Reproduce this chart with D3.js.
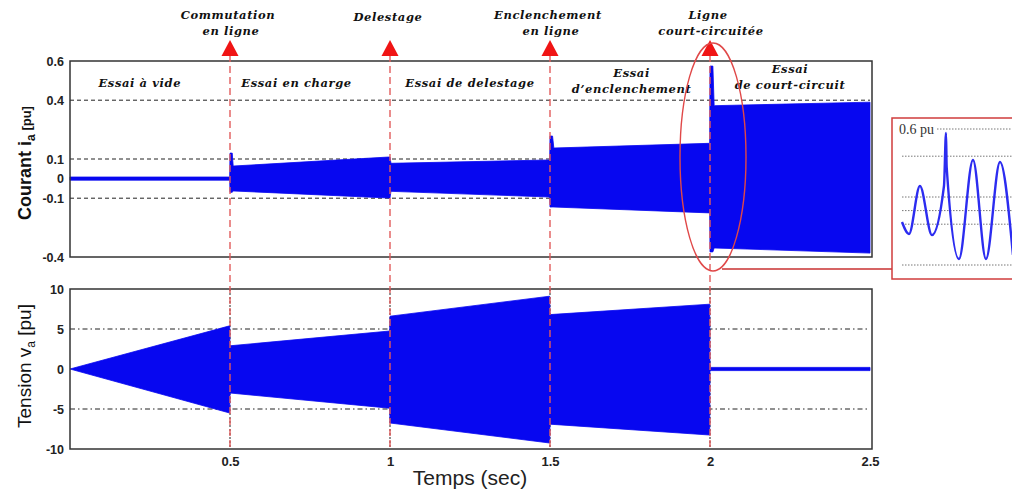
<!DOCTYPE html>
<html lang="fr">
<head>
<meta charset="UTF-8">
<title>Courant et tension</title>
<script src="https://d3js.org/d3.v7.min.js"></script>
<style>
  body { margin: 0; background: #fff; }
  .tick text { font-family: "Liberation Sans", Arial, sans-serif; font-weight: bold; font-size: 12.5px; fill: #222; }
  .lbl { font-family: "DejaVu Serif", serif; font-weight: bold; font-style: italic; font-size: 11.5px; letter-spacing: 0.6px; fill: #111; }
</style>
</head>
<body>
<div id="chart"></div>
<script>
// courant ia (pu) : enveloppe haute / basse
var tI  = [0, 0.499, 0.5, 0.507, 0.51, 0.995, 1.0, 1.003, 1.499, 1.5, 1.508, 1.512, 1.999, 2.0, 2.009, 2.013, 2.5];
var hiI = [0.008, 0.008, 0.13, 0.13, 0.064, 0.11, 0.11, 0.078, 0.095, 0.217, 0.217, 0.156, 0.18, 0.574, 0.574, 0.372, 0.39];
var loI = [-0.008, -0.008, -0.07, -0.07, -0.063, -0.099, -0.099, -0.065, -0.094, -0.145, -0.145, -0.145, -0.175, -0.374, -0.374, -0.354, -0.38];

// tension va (pu)
var tV  = [0, 0.499, 0.5, 0.999, 1.0, 1.499, 1.5, 1.999, 2.0, 2.5];
var hiV = [0, 5.4, 2.9, 4.75, 6.6, 9.1, 6.8, 8.1, 0.2, 0.2];
var loV = [0, -5.5, -3.0, -4.9, -6.75, -9.25, -6.9, -8.25, -0.2, -0.2];

// zoom sur le court-circuit
var tZoom = [1.9674, 1.9726, 1.9807, 1.9896, 1.9985, 2.0, 2.0005, 2.0096, 2.02, 2.0296, 2.04, 2.0496];
var vZoom = [-0.084, -0.172, 0.181, -0.18, 0.181, 0.571, 0.32, -0.356, 0.372, -0.356, 0.357, -0.326];

var ticksI = [0.6, 0.4, 0.1, 0, -0.1, -0.4];
var gridI = [0.4, 0.1, -0.1];
var ticksV = [10, 5, 0, -5, -10];
var gridV = [5, -5];
var ticksX = [0.5, 1, 1.5, 2, 2.5];

var events = [0.5, 1, 1.5, 2];
var eventLabels = [["Commutation", "en ligne"], ["Delestage"], ["Enclenchement", "en ligne"], ["Ligne", "court-circuitée"]];
var sectionT = [0.218, 0.708, 1.25, 1.755, 2.25];
var sectionLabels = [["Essai à vide"], ["Essai en charge"], ["Essai de delestage"], ["Essai", "d’enclenchement"], ["Essai", "de court-circuit"]];

var W = 1012, H = 489;
var svg = d3.select("#chart").append("svg").attr("width", W).attr("height", H)
    .style("background", "#fff");

var x = d3.scaleLinear().domain([0, 2.5]).range([70, 870]);
var yI = d3.scaleLinear().domain([-0.4, 0.6]).range([257, 61]);
var yV = d3.scaleLinear().domain([-10, 10]).range([449, 289]);
var fmt = function(d) { return String(d); };

var blue = "#0707f0";

// grilles
svg.selectAll(".gI").data(gridI).enter().append("line")
    .attr("x1", x(0)).attr("x2", x(2.5)).attr("y1", yI).attr("y2", yI)
    .attr("stroke", "#222").attr("stroke-width", 1).attr("stroke-dasharray", "4,3");
svg.selectAll(".gV").data(gridV).enter().append("line")
    .attr("x1", x(0)).attr("x2", x(2.5)).attr("y1", yV).attr("y2", yV)
    .attr("stroke", "#222").attr("stroke-width", 1).attr("stroke-dasharray", "5,3,1.5,3");
svg.selectAll(".gX").data(events).enter().append("line")
    .attr("x1", x).attr("x2", x).attr("y1", yV(10)).attr("y2", yV(-10))
    .attr("stroke", "#222").attr("stroke-width", 1).attr("stroke-dasharray", "2,2");

// signaux
var areaI = d3.area().x(function(d, i) { return x(tI[i]); })
    .y0(function(d, i) { return yI(loI[i]); }).y1(function(d) { return yI(d); });
svg.append("path").attr("d", areaI(hiI)).attr("fill", blue).attr("stroke", blue).attr("stroke-width", 0.8);

var areaV = d3.area().x(function(d, i) { return x(tV[i]); })
    .y0(function(d, i) { return yV(loV[i]); }).y1(function(d) { return yV(d); });
svg.append("path").attr("d", areaV(hiV)).attr("fill", blue).attr("stroke", blue).attr("stroke-width", 0.8);

// cadres
[yI, yV].forEach(function(y) {
    var d = y.domain();
    svg.append("rect").attr("x", x(0)).attr("y", y(d[1]))
        .attr("width", x(2.5) + 2 - x(0)).attr("height", y(d[0]) - y(d[1]))
        .attr("fill", "none").attr("stroke", "#333").attr("stroke-width", 1.5);
});

// axes
svg.append("g").attr("transform", "translate(" + x(0) + ",0)")
    .call(d3.axisLeft(yI).tickValues(ticksI).tickSize(0).tickPadding(6).tickFormat(fmt))
    .call(function(g) { g.select(".domain").remove(); });
svg.append("g").attr("transform", "translate(" + x(0) + ",0)")
    .call(d3.axisLeft(yV).tickValues(ticksV).tickSize(0).tickPadding(6).tickFormat(fmt))
    .call(function(g) { g.select(".domain").remove(); });
svg.append("g").attr("transform", "translate(0," + yV(-10) + ")")
    .call(d3.axisBottom(x).tickValues(ticksX).tickSize(0).tickPadding(8).tickFormat(fmt))
    .call(function(g) { g.select(".domain").remove(); g.selectAll("text").style("font-size", "13px"); });

// titres
svg.append("text").attr("x", 470).attr("y", 485).attr("text-anchor", "middle")
    .style("font-family", "Liberation Sans, Arial, sans-serif").style("font-size", "21px").style("fill", "#222")
    .text("Temps (sec)");

var tc = svg.append("text").attr("transform", "translate(31,163) rotate(-90)").attr("text-anchor", "middle")
    .style("font-family", "Liberation Sans, Arial, sans-serif").style("font-size", "18px")
    .style("font-weight", "bold").style("fill", "#111");
tc.append("tspan").text("Courant  i");
tc.append("tspan").attr("dy", 4).style("font-size", "12px").text("a");
tc.append("tspan").attr("dy", -4).style("font-size", "13px").text(" [pu]");

var tv = svg.append("text").attr("transform", "translate(31,366) rotate(-90)").attr("text-anchor", "middle")
    .style("font-family", "Liberation Sans, Arial, sans-serif").style("font-size", "19px").style("fill", "#111");
tv.append("tspan").text("Tension v");
tv.append("tspan").attr("dy", 4).style("font-size", "12px").text("a");
tv.append("tspan").attr("dy", -4).text(" [pu]");

// lignes rouges et fleches
svg.selectAll(".ev").data(events).enter().append("line")
    .attr("x1", x).attr("x2", x).attr("y1", 55).attr("y2", yV(-10))
    .attr("stroke", "#e25c5c").attr("stroke-width", 1.4).attr("stroke-dasharray", "7,4");
svg.selectAll(".arr").data(events).enter().append("path")
    .attr("d", function(d) { var c = x(d); return "M" + c + ",40L" + (c + 8.5) + ",56L" + (c - 8.5) + ",56Z"; })
    .attr("fill", "#f01414");

eventLabels.forEach(function(lines, i) {
    var t = svg.append("text").attr("class", "lbl").attr("text-anchor", "middle")
        .attr("x", x(events[i]) - 2).attr("y", lines.length > 1 ? 19 : 21);
    lines.forEach(function(s, j) {
        t.append("tspan").attr("x", x(events[i]) - 2 + (j ? 3 : 0)).attr("dy", j ? 16 : 0).text(s);
    });
});

sectionLabels.forEach(function(lines, i) {
    var y0 = lines.length > 1 ? (i === 4 ? 73 : 77) : 87;
    var t = svg.append("text").attr("class", "lbl").attr("text-anchor", "middle").attr("y", y0);
    lines.forEach(function(s, j) {
        t.append("tspan").attr("x", x(sectionT[i])).attr("dy", j ? 16 : 0).text(s);
    });
});

// ellipse et zoom
svg.append("ellipse").attr("cx", x(2) + 3).attr("cy", 157).attr("rx", 33).attr("ry", 114)
    .attr("fill", "none").attr("stroke", "#e04848").attr("stroke-width", 1.4);
svg.append("line").attr("x1", x(2) + 12).attr("x2", 892).attr("y1", 269).attr("y2", 269)
    .attr("stroke", "#c83030").attr("stroke-width", 1.5);

var xz = d3.scaleLinear().domain([1.96, 2.05]).range([892, 1013.5]);
var yz = d3.scaleLinear().domain([-0.4, 0.6]).range([265, 129]);

svg.append("rect").attr("x", 892).attr("y", 118).attr("width", 130).attr("height", 161)
    .attr("fill", "#fff").attr("stroke", "#d03c3c").attr("stroke-width", 1.5);
svg.selectAll(".gz").data(ticksI).enter().append("line")
    .attr("x1", function(d) { return d === 0.6 ? 937 : 902; }).attr("x2", 1012)
    .attr("y1", yz).attr("y2", yz)
    .attr("stroke", "#777").attr("stroke-width", 1).attr("stroke-dasharray", "1.5,1.5");
svg.append("text").attr("x", 899).attr("y", 134)
    .style("font-family", "Liberation Serif, serif").style("font-size", "14px").style("fill", "#333")
    .text("0.6 pu");

var lineZ = d3.line().curve(d3.curveMonotoneX)
    .x(function(d, i) { return xz(tZoom[i]); }).y(function(d) { return yz(d); });
svg.append("path").attr("d", lineZ(vZoom)).attr("fill", "none")
    .attr("stroke", "#2c2cf0").attr("stroke-width", 2.4);
</script>
</body>
</html>
